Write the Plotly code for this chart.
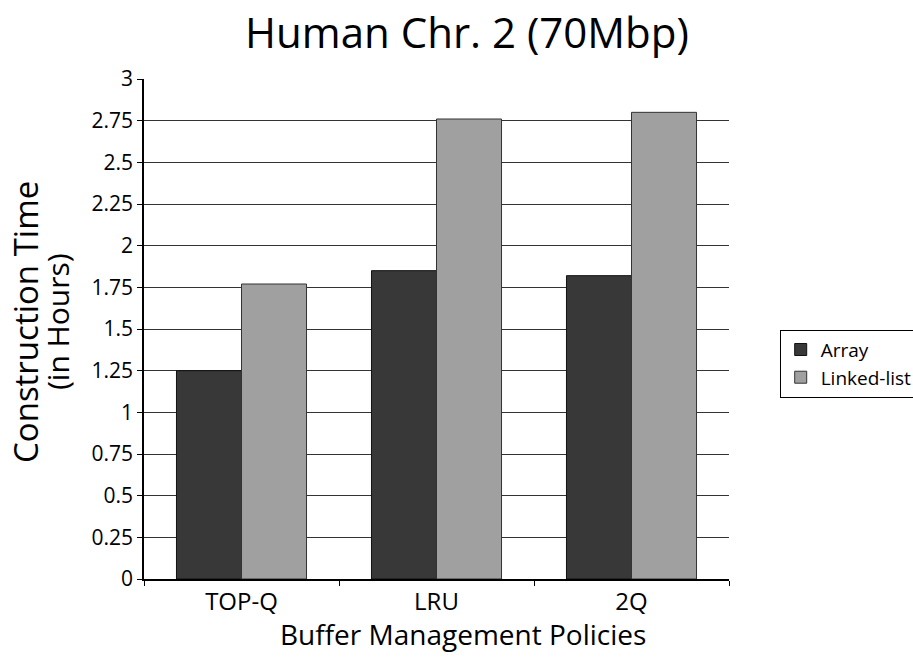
import plotly.graph_objects as go

categories = ["TOP-Q", "LRU", "2Q"]
array_vals = [1.25, 1.85, 1.82]
linked_vals = [1.77, 2.76, 2.80]
y_ticks = [0, 0.25, 0.5, 0.75, 1, 1.25, 1.5, 1.75, 2, 2.25, 2.5, 2.75, 3]
y_tick_labels = ["0", "0.25", "0.5", "0.75", "1", "1.25", "1.5", "1.75", "2", "2.25", "2.5", "2.75", "3"]
y_title_lines = ["Construction Time", "(in Hours)"]
x_title = "Buffer Management Policies"

FONT = "Open Sans"
W, H = 913, 660
ML, MR, MT, MB = 144, 184, 79, 81
PW, PH = W - ML - MR, H - MT - MB

fig = go.Figure()
fig.add_trace(go.Bar(name="Array", x=categories, y=array_vals,
                     marker=dict(color="#383838", line=dict(color="#111111", width=1))))
fig.add_trace(go.Bar(name="Linked-list", x=categories, y=linked_vals,
                     marker=dict(color="#a0a0a0", line=dict(color="#333333", width=1))))

fig.update_layout(
    width=W, height=H,
    margin=dict(l=ML, r=MR, t=MT, b=MB, autoexpand=False),
    paper_bgcolor="white", plot_bgcolor="white",
    barmode="group", bargap=0.333, bargroupgap=0,
    font=dict(family=FONT, color="black"),
    title=dict(text="Human Chr. 2 (70Mbp)", x=0.5115, xanchor="center", y=0.95, yanchor="middle",
               font=dict(size=42, family=FONT, color="black")),
    showlegend=True,
    legend=dict(xref="container", yref="container", x=0.854, xanchor="left", y=0.449, yanchor="middle",
                bordercolor="black", borderwidth=1, bgcolor="white",
                font=dict(size=19, family=FONT), tracegroupgap=0),
    xaxis=dict(
        showline=True, linecolor="black", linewidth=1.5,
        ticks="outside", ticklen=5, tickcolor="black", tickson="boundaries",
        showgrid=False, tickfont=dict(size=24, family=FONT),
    ),
    yaxis=dict(
        range=[0, 3], tickvals=y_ticks, ticktext=y_tick_labels,
        showline=True, linecolor="black", linewidth=1.5,
        ticks="outside", ticklen=5, tickcolor="black",
        showgrid=True, gridcolor="#333333", gridwidth=1,
        tickfont=dict(size=21, family=FONT),
        zeroline=False,
    ),
)

for i, (line, xpx) in enumerate(zip(y_title_lines, [25, 57])):
    fig.add_annotation(text=line, xref="paper", yref="paper",
                       x=(xpx - ML) / PW, y=1 - (322 - MT) / PH,
                       xanchor="center", yanchor="middle", textangle=-90, showarrow=False,
                       font=dict(size=33 if i == 0 else 30, family=FONT, color="black"))

fig.add_annotation(text=x_title, xref="paper", yref="paper",
                   x=(463 - ML) / PW, y=1 - (634 - MT) / PH,
                   xanchor="center", yanchor="middle", showarrow=False,
                   font=dict(size=28, family=FONT, color="black"))

fig.write_html("out.html")
